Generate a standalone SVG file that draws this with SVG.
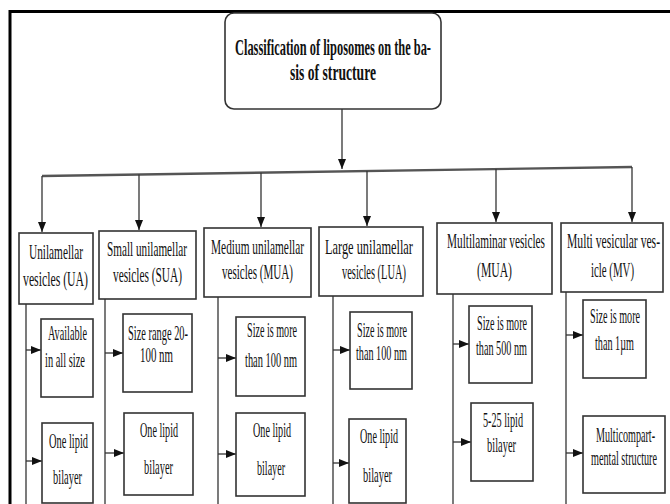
<svg xmlns="http://www.w3.org/2000/svg" width="670" height="504" viewBox="0 0 670 504">
<style>
.t{font-family:"Liberation Serif","Times New Roman",serif;fill:#111;}
.h{font-size:21px;}
.s{font-size:20px;}
.ti{font-size:24px;font-weight:bold;}
.box{fill:#fff;stroke:#333;stroke-width:1.6;}
.ln{stroke:#333;stroke-width:1.3;fill:none;}
</style>
<defs>
<marker id="ah" markerUnits="userSpaceOnUse" markerWidth="10" markerHeight="10" refX="10" refY="4" orient="auto">
<path d="M0,0 L10,4 L0,8 z" fill="#111"/>
</marker>
</defs>
<rect width="670" height="504" fill="#fff"/>
<path d="M10,504 V11.5 H670" fill="none" stroke="#000" stroke-width="3"/>

<g id="connectors">
<line class="ln" x1="342" y1="109" x2="342" y2="169" marker-end="url(#ah)"/>
<line x1="42" y1="176" x2="632" y2="167" stroke="#555" stroke-width="2.4"/>
<line class="ln" x1="42" y1="176" x2="42" y2="232" marker-end="url(#ah)"/>
<line class="ln" x1="139" y1="174.5" x2="139" y2="230" marker-end="url(#ah)"/>
<line class="ln" x1="261" y1="172.7" x2="261" y2="227" marker-end="url(#ah)"/>
<line class="ln" x1="367" y1="171" x2="367" y2="226" marker-end="url(#ah)"/>
<line class="ln" x1="496" y1="169" x2="496" y2="222" marker-end="url(#ah)"/>
<line class="ln" x1="632" y1="167" x2="632" y2="222" marker-end="url(#ah)"/>
<line class="ln" x1="26" y1="304" x2="26" y2="504"/>
<line class="ln" x1="26" y1="350" x2="41" y2="350" marker-end="url(#ah)"/>
<line class="ln" x1="26" y1="461" x2="42" y2="461" marker-end="url(#ah)"/>
<line class="ln" x1="105" y1="299" x2="105" y2="504"/>
<line class="ln" x1="105" y1="353" x2="123" y2="353" marker-end="url(#ah)"/>
<line class="ln" x1="105" y1="453" x2="124" y2="453" marker-end="url(#ah)"/>
<line class="ln" x1="218" y1="297" x2="218" y2="504"/>
<line class="ln" x1="218" y1="358" x2="236" y2="358" marker-end="url(#ah)"/>
<line class="ln" x1="218" y1="454" x2="236" y2="454" marker-end="url(#ah)"/>
<line class="ln" x1="333" y1="296" x2="333" y2="504"/>
<line class="ln" x1="333" y1="350" x2="350" y2="350" marker-end="url(#ah)"/>
<line class="ln" x1="333" y1="463" x2="349" y2="463" marker-end="url(#ah)"/>
<line class="ln" x1="453" y1="294" x2="453" y2="504"/>
<line class="ln" x1="453" y1="344" x2="469" y2="344" marker-end="url(#ah)"/>
<line class="ln" x1="453" y1="442" x2="471" y2="442" marker-end="url(#ah)"/>
<line class="ln" x1="566" y1="292" x2="566" y2="504"/>
<line class="ln" x1="566" y1="335" x2="583" y2="335" marker-end="url(#ah)"/>
<line class="ln" x1="566" y1="453" x2="583" y2="453" marker-end="url(#ah)"/>
</g>

<g id="title">
<rect class="box" x="225" y="13" width="216" height="96" rx="9"/>
<text class="t ti" transform="translate(235,55) scale(0.5,1)" textLength="392" lengthAdjust="spacingAndGlyphs">Classification of liposomes on the ba-</text>
<text class="t ti" transform="translate(333,80) scale(0.5,1)" text-anchor="middle" textLength="172" lengthAdjust="spacingAndGlyphs">sis of structure</text>
</g>

<g id="ua">
<rect class="box" x="19" y="233" width="74" height="71"/>
<text class="t h" transform="translate(29,259) scale(0.56,1)" textLength="96.4" lengthAdjust="spacingAndGlyphs">Unilamellar</text>
<text class="t h" transform="translate(23,286) scale(0.56,1)" textLength="116.1" lengthAdjust="spacingAndGlyphs">vesicles (UA)</text>
</g>
<g id="sua">
<rect class="box" x="99" y="231" width="97" height="68"/>
<text class="t h" transform="translate(107,256) scale(0.56,1)" textLength="142.9" lengthAdjust="spacingAndGlyphs">Small unilamellar</text>
<text class="t h" transform="translate(113,282) scale(0.56,1)" textLength="123.2" lengthAdjust="spacingAndGlyphs">vesicles (SUA)</text>
</g>
<g id="mua">
<rect class="box" x="204" y="228" width="107" height="69"/>
<text class="t h" transform="translate(211,254) scale(0.56,1)" textLength="166.1" lengthAdjust="spacingAndGlyphs">Medium unilamellar</text>
<text class="t h" transform="translate(222,279) scale(0.56,1)" textLength="126.8" lengthAdjust="spacingAndGlyphs">vesicles (MUA)</text>
</g>
<g id="lua">
<rect class="box" x="319" y="227" width="104" height="69"/>
<text class="t h" transform="translate(325,254) scale(0.56,1)" textLength="157.1" lengthAdjust="spacingAndGlyphs">Large  unilamellar</text>
<text class="t h" transform="translate(342,279) scale(0.56,1)" textLength="114.3" lengthAdjust="spacingAndGlyphs">vesicles (LUA)</text>
</g>
<g id="mlv">
<rect class="box" x="437" y="223" width="115" height="71"/>
<text class="t h" transform="translate(447,248) scale(0.56,1)" textLength="175" lengthAdjust="spacingAndGlyphs">Multilaminar vesicles</text>
<text class="t h" transform="translate(477,277) scale(0.56,1)" textLength="62.5" lengthAdjust="spacingAndGlyphs">(MUA)</text>
</g>
<g id="mv">
<rect class="box" x="561" y="223" width="102" height="69"/>
<text class="t h" transform="translate(567,248) scale(0.56,1)" textLength="166.1" lengthAdjust="spacingAndGlyphs">Multi vesicular ves-</text>
<text class="t h" transform="translate(591,277) scale(0.56,1)" textLength="76.8" lengthAdjust="spacingAndGlyphs">icle (MV)</text>
</g>

<g id="ua1">
<rect class="box" x="41" y="319" width="52" height="78"/>
<text class="t s" transform="translate(48,340) scale(0.56,1)" textLength="69.6" lengthAdjust="spacingAndGlyphs">Available</text>
<text class="t s" transform="translate(45,367) scale(0.56,1)" textLength="71.4" lengthAdjust="spacingAndGlyphs">in all size</text>
</g>
<g id="ua2">
<rect class="box" x="42" y="423" width="51" height="80"/>
<text class="t s" transform="translate(49,448) scale(0.56,1)" textLength="69.6" lengthAdjust="spacingAndGlyphs">One lipid</text>
<text class="t s" transform="translate(53,484) scale(0.56,1)" textLength="51.8" lengthAdjust="spacingAndGlyphs">bilayer</text>
</g>
<g id="sua1">
<rect class="box" x="123" y="314" width="69" height="78"/>
<text class="t s" transform="translate(128,340) scale(0.56,1)" textLength="107.1" lengthAdjust="spacingAndGlyphs">Size range 20-</text>
<text class="t s" transform="translate(140,362) scale(0.56,1)" textLength="58.9" lengthAdjust="spacingAndGlyphs">100 nm</text>
</g>
<g id="sua2">
<rect class="box" x="124" y="413" width="69" height="82"/>
<text class="t s" transform="translate(140,437) scale(0.56,1)" textLength="67.9" lengthAdjust="spacingAndGlyphs">One lipid</text>
<text class="t s" transform="translate(144,474) scale(0.56,1)" textLength="51.8" lengthAdjust="spacingAndGlyphs">bilayer</text>
</g>
<g id="mua1">
<rect class="box" x="236" y="317" width="69" height="79"/>
<text class="t s" transform="translate(247,337) scale(0.56,1)" textLength="89.3" lengthAdjust="spacingAndGlyphs">Size is more</text>
<text class="t s" transform="translate(245,367) scale(0.56,1)" textLength="92.9" lengthAdjust="spacingAndGlyphs">than 100 nm</text>
</g>
<g id="mua2">
<rect class="box" x="236" y="413" width="69" height="83"/>
<text class="t s" transform="translate(253,437) scale(0.56,1)" textLength="67.9" lengthAdjust="spacingAndGlyphs">One lipid</text>
<text class="t s" transform="translate(257,475) scale(0.56,1)" textLength="50" lengthAdjust="spacingAndGlyphs">bilayer</text>
</g>
<g id="lua1">
<rect class="box" x="350" y="312" width="62" height="77"/>
<text class="t s" transform="translate(357,337) scale(0.56,1)" textLength="89.3" lengthAdjust="spacingAndGlyphs">Size is more</text>
<text class="t s" transform="translate(356,360) scale(0.56,1)" textLength="91.1" lengthAdjust="spacingAndGlyphs">than 100 nm</text>
</g>
<g id="lua2">
<rect class="box" x="349" y="419" width="57" height="84"/>
<text class="t s" transform="translate(360,443) scale(0.56,1)" textLength="67.9" lengthAdjust="spacingAndGlyphs">One lipid</text>
<text class="t s" transform="translate(363,482) scale(0.56,1)" textLength="51.8" lengthAdjust="spacingAndGlyphs">bilayer</text>
</g>
<g id="mlv1">
<rect class="box" x="469" y="306" width="63" height="77"/>
<text class="t s" transform="translate(477,330) scale(0.56,1)" textLength="89.3" lengthAdjust="spacingAndGlyphs">Size is more</text>
<text class="t s" transform="translate(476,355) scale(0.56,1)" textLength="91.1" lengthAdjust="spacingAndGlyphs">than 500 nm</text>
</g>
<g id="mlv2">
<rect class="box" x="471" y="403" width="62" height="78"/>
<text class="t s" transform="translate(483,427) scale(0.56,1)" textLength="71.4" lengthAdjust="spacingAndGlyphs">5-25 lipid</text>
<text class="t s" transform="translate(487,452) scale(0.56,1)" textLength="51.8" lengthAdjust="spacingAndGlyphs">bilayer</text>
</g>
<g id="mv1">
<rect class="box" x="583" y="300" width="63" height="78"/>
<text class="t s" transform="translate(590,323) scale(0.56,1)" textLength="89.3" lengthAdjust="spacingAndGlyphs">Size is more</text>
<text class="t s" transform="translate(595,350) scale(0.56,1)" textLength="69.6" lengthAdjust="spacingAndGlyphs">than 1µm</text>
</g>
<g id="mv2">
<rect class="box" x="583" y="416" width="82" height="77"/>
<text class="t s" transform="translate(596,442) scale(0.56,1)" textLength="105.4" lengthAdjust="spacingAndGlyphs">Multicompart-</text>
<text class="t s" transform="translate(591,465) scale(0.56,1)" textLength="117.9" lengthAdjust="spacingAndGlyphs">mental structure</text>
</g>
</svg>
